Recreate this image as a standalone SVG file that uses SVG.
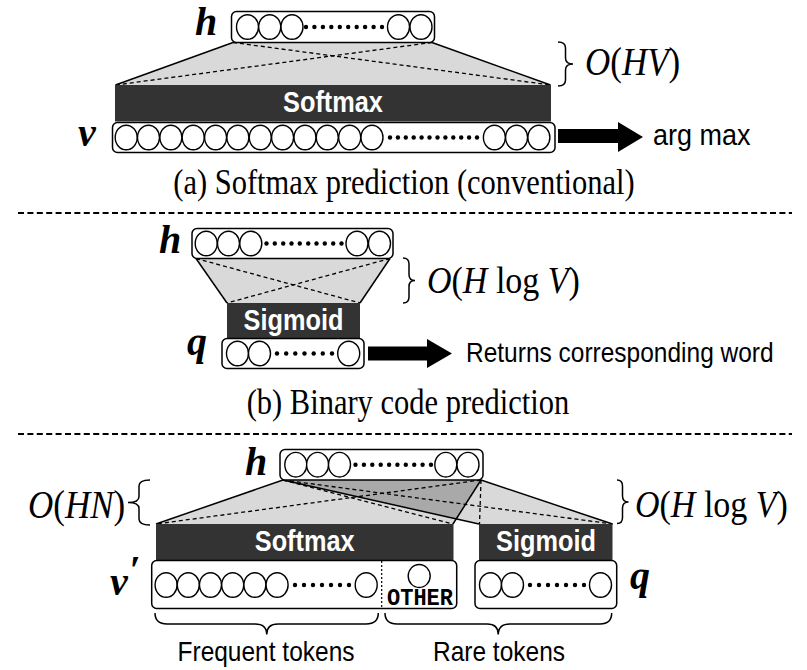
<svg xmlns="http://www.w3.org/2000/svg" width="807" height="670" viewBox="0 0 807 670">
<defs>
<style>
.box{fill:#fff;stroke:#000;stroke-width:1.5}
.n{fill:#fff;stroke:#000;stroke-width:1.4}
.d{fill:#000}
.bar{fill:#333}
.tz{fill:#d9d9d9;stroke:none}
.ov{fill:#a9a9a9;stroke:none}
.sl{stroke:#000;stroke-width:1.5;fill:none}
.dl{stroke:#000;stroke-width:1.3;stroke-dasharray:4 3;fill:none}
.sep{stroke:#000;stroke-width:2;stroke-dasharray:6 3.4;fill:none}
.br{stroke:#000;stroke-width:1.5;fill:none}
.lab{font-family:"Liberation Serif",serif;font-weight:bold;font-style:italic;font-size:40px}
.math{font-family:"Liberation Serif",serif;font-size:35px}
.it{font-style:italic}
.bt{font-family:"Liberation Sans",sans-serif;font-weight:bold;font-size:25.3px;fill:#fff;text-anchor:middle}
.sans{font-family:"Liberation Sans",sans-serif;font-size:24.5px}
.cap{font-family:"Liberation Serif",serif;font-size:30.5px;text-anchor:middle}
.mono{font-family:"Liberation Mono",monospace;font-weight:bold;font-size:22px;text-anchor:middle}
</style>
</defs>

<!-- ========== (a) ========== -->
<g id="connectors-a">
<polygon class="tz" points="233,42.5 432,42.5 550.5,85 115.5,85"/>
<line class="sl" x1="233" y1="42.5" x2="115.5" y2="85"/>
<line class="sl" x1="432" y1="42.5" x2="550.5" y2="85"/>
<line class="dl" x1="233" y1="42.5" x2="550.5" y2="85"/>
<line class="dl" x1="432" y1="42.5" x2="115.5" y2="85"/>
<polygon points="558,129 618,129 618,122 643,137 618,152 618,143 558,143" fill="#000"/>
</g>
<g id="a-h">
<text class="lab" x="195" y="35">h</text>
<rect class="box" x="231.5" y="11.5" width="203" height="31" rx="5"/>
<ellipse class="n" cx="247.5" cy="27" rx="11" ry="12.3"/><ellipse class="n" cx="269.7" cy="27" rx="11" ry="12.3"/><ellipse class="n" cx="292" cy="27" rx="11" ry="12.3"/>
<circle class="d" cx="306" cy="27" r="2.2"/><circle class="d" cx="314.4" cy="27" r="2.2"/><circle class="d" cx="322.9" cy="27" r="2.2"/><circle class="d" cx="331.3" cy="27" r="2.2"/><circle class="d" cx="339.8" cy="27" r="2.2"/><circle class="d" cx="348.2" cy="27" r="2.2"/><circle class="d" cx="356.7" cy="27" r="2.2"/><circle class="d" cx="365.1" cy="27" r="2.2"/><circle class="d" cx="373.6" cy="27" r="2.2"/><circle class="d" cx="382" cy="27" r="2.2"/>
<ellipse class="n" cx="398.5" cy="27" rx="11" ry="12.3"/><ellipse class="n" cx="421" cy="27" rx="11" ry="12.3"/>
</g>
<g id="a-softmax">
<rect class="bar" x="115" y="85" width="436" height="36.5"/>
<text class="bt" transform="translate(333,112) scale(1,1.13)">Softmax</text>
</g>
<g id="a-v">
<text class="lab" x="78" y="146">v</text>
<rect class="box" x="112.5" y="122.5" width="442.5" height="30" rx="5"/>
<ellipse class="n" cx="126.2" cy="137.5" rx="11" ry="12.3"/><ellipse class="n" cx="148.5" cy="137.5" rx="11" ry="12.3"/><ellipse class="n" cx="170.9" cy="137.5" rx="11" ry="12.3"/><ellipse class="n" cx="193.2" cy="137.5" rx="11" ry="12.3"/><ellipse class="n" cx="215.6" cy="137.5" rx="11" ry="12.3"/><ellipse class="n" cx="237.9" cy="137.5" rx="11" ry="12.3"/><ellipse class="n" cx="260.3" cy="137.5" rx="11" ry="12.3"/><ellipse class="n" cx="282.6" cy="137.5" rx="11" ry="12.3"/><ellipse class="n" cx="305" cy="137.5" rx="11" ry="12.3"/><ellipse class="n" cx="327.3" cy="137.5" rx="11" ry="12.3"/><ellipse class="n" cx="349.7" cy="137.5" rx="11" ry="12.3"/><ellipse class="n" cx="372" cy="137.5" rx="11" ry="12.3"/>
<circle class="d" cx="390" cy="137.5" r="2.2"/><circle class="d" cx="397.9" cy="137.5" r="2.2"/><circle class="d" cx="405.8" cy="137.5" r="2.2"/><circle class="d" cx="413.7" cy="137.5" r="2.2"/><circle class="d" cx="421.6" cy="137.5" r="2.2"/><circle class="d" cx="429.5" cy="137.5" r="2.2"/><circle class="d" cx="437.5" cy="137.5" r="2.2"/><circle class="d" cx="445.4" cy="137.5" r="2.2"/><circle class="d" cx="453.3" cy="137.5" r="2.2"/><circle class="d" cx="461.2" cy="137.5" r="2.2"/><circle class="d" cx="469.1" cy="137.5" r="2.2"/><circle class="d" cx="477" cy="137.5" r="2.2"/>
<ellipse class="n" cx="494.4" cy="137.5" rx="11" ry="12.3"/><ellipse class="n" cx="516.6" cy="137.5" rx="11" ry="12.3"/><ellipse class="n" cx="538.9" cy="137.5" rx="11" ry="12.3"/>
</g>
<g id="a-cost">
<path class="br" d="M558,42 Q565.5,42 565.5,48 L565.5,58 Q565.5,64 573,64 Q565.5,64 565.5,70 L565.5,80 Q565.5,86 558,86"/>
<text class="math" transform="translate(585,75) scale(1,1.12)"><tspan class="it">O</tspan>(<tspan class="it">HV</tspan>)</text>
</g>
<g id="a-out"><text class="sans" transform="translate(653,145) scale(1,1.12)" style="font-size:27px">arg max</text></g>
<text class="cap" transform="translate(404,194) scale(1,1.17)">(a) Softmax prediction (conventional)</text>
<line class="sep" x1="18" y1="213" x2="792" y2="213"/>

<!-- ========== (b) ========== -->
<g id="connectors-b">
<polygon class="tz" points="196,258.5 390,258.5 360,303 227,303"/>
<line class="sl" x1="196" y1="258.5" x2="227" y2="303"/>
<line class="sl" x1="390" y1="258.5" x2="360" y2="303"/>
<line class="dl" x1="196" y1="258.5" x2="360" y2="303"/>
<line class="dl" x1="390" y1="258.5" x2="227" y2="303"/>
<polygon points="368,346.5 427,346.5 427,339 452,353.5 427,368 427,360.5 368,360.5" fill="#000"/>
</g>
<g id="b-h">
<text class="lab" x="159" y="253">h</text>
<rect class="box" x="192" y="228.5" width="201" height="30" rx="5"/>
<ellipse class="n" cx="206.2" cy="243.5" rx="11" ry="12.3"/><ellipse class="n" cx="228.5" cy="243.5" rx="11" ry="12.3"/><ellipse class="n" cx="250.8" cy="243.5" rx="11" ry="12.3"/>
<circle class="d" cx="266.5" cy="243.5" r="2.2"/><circle class="d" cx="274.8" cy="243.5" r="2.2"/><circle class="d" cx="283.2" cy="243.5" r="2.2"/><circle class="d" cx="291.5" cy="243.5" r="2.2"/><circle class="d" cx="299.8" cy="243.5" r="2.2"/><circle class="d" cx="308.2" cy="243.5" r="2.2"/><circle class="d" cx="316.5" cy="243.5" r="2.2"/><circle class="d" cx="324.8" cy="243.5" r="2.2"/><circle class="d" cx="333.2" cy="243.5" r="2.2"/><circle class="d" cx="341.5" cy="243.5" r="2.2"/>
<ellipse class="n" cx="357" cy="243.5" rx="11" ry="12.3"/><ellipse class="n" cx="379.5" cy="243.5" rx="11" ry="12.3"/>
</g>
<g id="b-sigmoid">
<rect class="bar" x="227" y="303" width="133" height="35.5"/>
<text class="bt" transform="translate(293.5,329.5) scale(1,1.13)">Sigmoid</text>
</g>
<g id="b-q">
<text class="lab" x="187" y="355">q</text>
<rect class="box" x="222" y="338.5" width="142" height="30" rx="5"/>
<ellipse class="n" cx="237.5" cy="353.5" rx="11" ry="12.3"/><ellipse class="n" cx="259.5" cy="353.5" rx="11" ry="12.3"/>
<circle class="d" cx="277" cy="353.5" r="2.2"/><circle class="d" cx="286.2" cy="353.5" r="2.2"/><circle class="d" cx="295.3" cy="353.5" r="2.2"/><circle class="d" cx="304.5" cy="353.5" r="2.2"/><circle class="d" cx="313.7" cy="353.5" r="2.2"/><circle class="d" cx="322.8" cy="353.5" r="2.2"/><circle class="d" cx="332" cy="353.5" r="2.2"/>
<ellipse class="n" cx="348.7" cy="353.5" rx="11" ry="12.3"/>
</g>
<g id="b-cost">
<path class="br" d="M403,258 Q409,258 409,264 L409,274.5 Q409,280.5 415,280.5 Q409,280.5 409,286.5 L409,297 Q409,303 403,303"/>
<text class="math" transform="translate(427,293) scale(1,1.12)" style="font-size:34px"><tspan class="it">O</tspan>(<tspan class="it">H</tspan> log <tspan class="it">V</tspan>)</text>
</g>
<g id="b-out"><text class="sans" transform="translate(466,362) scale(1,1.12)">Returns corresponding word</text></g>
<text class="cap" transform="translate(408,414) scale(1,1.17)">(b) Binary code prediction</text>
<line class="sep" x1="18" y1="434" x2="792" y2="434"/>

<!-- ========== (c) ========== -->
<g id="connectors-c">
<polygon class="tz" points="283,480 481,480 453,524 156,524"/>
<polygon class="tz" points="283,480 481,480 612.5,524 479,524"/>
<polygon class="ov" points="283,480 481,480 456.2,518.9"/>
<line class="sl" x1="283" y1="480" x2="156" y2="524"/>
<line class="sl" x1="481" y1="480" x2="453" y2="524"/>
<line class="sl" x1="283" y1="480" x2="479" y2="524"/>
<line class="sl" x1="481" y1="480" x2="612.5" y2="524"/>
<line class="dl" x1="283" y1="480" x2="453" y2="524"/>
<line class="dl" x1="481" y1="480" x2="156" y2="524"/>
<line class="dl" x1="283" y1="480" x2="612.5" y2="524"/>
<line class="dl" x1="481" y1="480" x2="479.5" y2="524"/>
</g>
<g id="c-h">
<text class="lab" x="245" y="475">h</text>
<rect class="box" x="280" y="449.5" width="203" height="30.5" rx="5"/>
<ellipse class="n" cx="295.8" cy="464.7" rx="11" ry="12.3"/><ellipse class="n" cx="317.6" cy="464.7" rx="11" ry="12.3"/><ellipse class="n" cx="339.5" cy="464.7" rx="11" ry="12.3"/>
<circle class="d" cx="355.5" cy="464.7" r="2.2"/><circle class="d" cx="363.9" cy="464.7" r="2.2"/><circle class="d" cx="372.3" cy="464.7" r="2.2"/><circle class="d" cx="380.7" cy="464.7" r="2.2"/><circle class="d" cx="389.1" cy="464.7" r="2.2"/><circle class="d" cx="397.4" cy="464.7" r="2.2"/><circle class="d" cx="405.8" cy="464.7" r="2.2"/><circle class="d" cx="414.2" cy="464.7" r="2.2"/><circle class="d" cx="422.6" cy="464.7" r="2.2"/><circle class="d" cx="431" cy="464.7" r="2.2"/>
<ellipse class="n" cx="445.8" cy="464.7" rx="11" ry="12.3"/><ellipse class="n" cx="468" cy="464.7" rx="11" ry="12.3"/>
</g>
<g id="c-softmax">
<rect class="bar" x="156" y="524" width="297.5" height="36"/>
<text class="bt" transform="translate(304.7,550.5) scale(1,1.13)">Softmax</text>
</g>
<g id="c-sigmoid">
<rect class="bar" x="479" y="524" width="133.5" height="36"/>
<text class="bt" transform="translate(546,550.5) scale(1,1.13)">Sigmoid</text>
</g>
<g id="c-v">
<text class="lab" x="110" y="595">v<tspan font-style="normal" font-weight="bold" dx="2" dy="-12" font-size="40">′</tspan></text>
<rect class="box" x="151.7" y="560.5" width="305" height="48" rx="5"/>
<ellipse class="n" cx="166.1" cy="585" rx="11" ry="12.3"/><ellipse class="n" cx="188.3" cy="585" rx="11" ry="12.3"/><ellipse class="n" cx="210.5" cy="585" rx="11" ry="12.3"/><ellipse class="n" cx="232.7" cy="585" rx="11" ry="12.3"/><ellipse class="n" cx="254.9" cy="585" rx="11" ry="12.3"/><ellipse class="n" cx="277.1" cy="585" rx="11" ry="12.3"/>
<circle class="d" cx="295" cy="585" r="2.2"/><circle class="d" cx="304" cy="585" r="2.2"/><circle class="d" cx="313" cy="585" r="2.2"/><circle class="d" cx="322" cy="585" r="2.2"/><circle class="d" cx="331" cy="585" r="2.2"/><circle class="d" cx="340" cy="585" r="2.2"/><circle class="d" cx="349" cy="585" r="2.2"/>
<ellipse class="n" cx="366.2" cy="585" rx="11" ry="12.3"/>
<line x1="381.7" y1="561" x2="381.7" y2="608" stroke="#000" stroke-width="1.2" stroke-dasharray="2 2"/>
<ellipse class="n" cx="419.2" cy="576" rx="11" ry="11.5"/>
<text class="mono" transform="translate(420,605) scale(1,1.1)">OTHER</text>
</g>
<g id="c-q">
<text class="lab" x="630" y="589">q</text>
<rect class="box" x="475" y="560.5" width="141.7" height="48" rx="5"/>
<ellipse class="n" cx="490.5" cy="585" rx="11" ry="12.3"/><ellipse class="n" cx="512.5" cy="585" rx="11" ry="12.3"/>
<circle class="d" cx="530" cy="585" r="2.2"/><circle class="d" cx="539" cy="585" r="2.2"/><circle class="d" cx="548" cy="585" r="2.2"/><circle class="d" cx="557" cy="585" r="2.2"/><circle class="d" cx="566" cy="585" r="2.2"/><circle class="d" cx="575" cy="585" r="2.2"/><circle class="d" cx="584" cy="585" r="2.2"/>
<ellipse class="n" cx="600.5" cy="585" rx="11" ry="12.3"/>
</g>
<g id="c-cost-left">
<text class="math" transform="translate(28,518) scale(1,1.12)"><tspan class="it">O</tspan>(<tspan class="it">HN</tspan>)</text>
<path class="br" d="M150,480 Q139,480 139,486 L139,496.5 Q139,502.5 128,502.5 Q139,502.5 139,508.5 L139,519 Q139,525 150,525"/>
</g>
<g id="c-cost-right">
<path class="br" d="M617,480 Q622.5,480 622.5,486 L622.5,496 Q622.5,502 628.5,502 Q622.5,502 622.5,508 L622.5,517.5 Q622.5,523.5 617,523.5"/>
<text class="math" transform="translate(635,517) scale(1,1.12)" style="font-size:34px"><tspan class="it">O</tspan>(<tspan class="it">H</tspan> log <tspan class="it">V</tspan>)</text>
</g>
<g id="c-freq">
<path class="br" d="M155,613 Q155,624 167,624 L255,624 Q266.7,624 266.7,634.5 Q266.7,624 278,624 L366,624 Q378.3,624 378.3,613" stroke-width="2"/>
<text class="sans" transform="translate(266,661) scale(1,1.12)" text-anchor="middle">Frequent tokens</text>
</g>
<g id="c-rare">
<path class="br" d="M385,613 Q385,624 397,624 L487,624 Q498.3,624 498.3,634.5 Q498.3,624 510,624 L600,624 Q611.7,624 611.7,613" stroke-width="2"/>
<text class="sans" transform="translate(499,661) scale(1,1.12)" text-anchor="middle">Rare tokens</text>
</g>
</svg>
